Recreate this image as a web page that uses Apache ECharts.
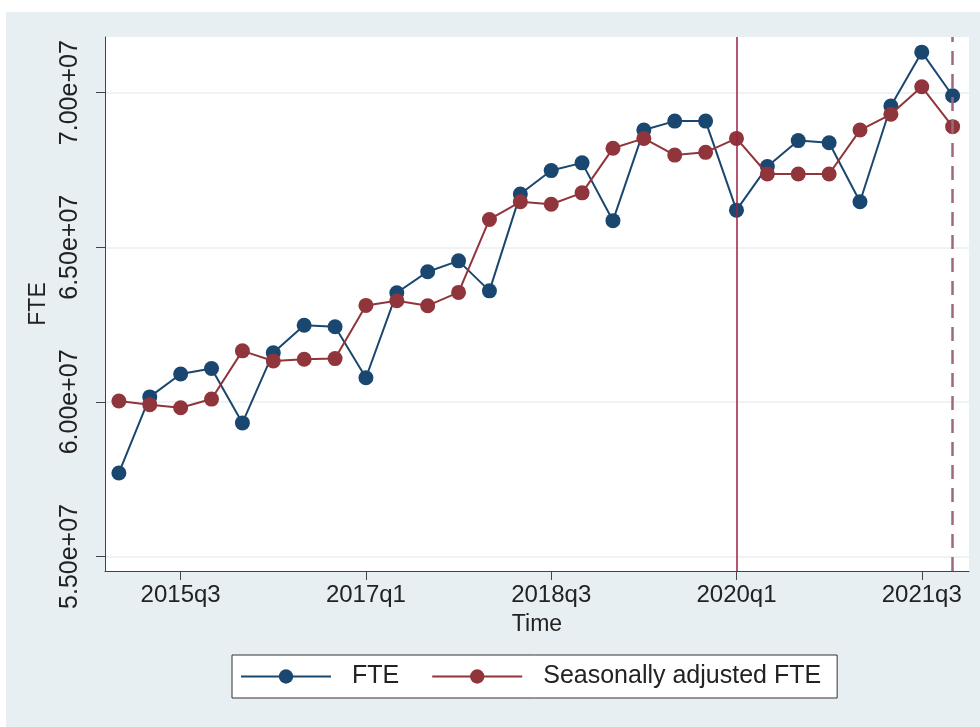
<!DOCTYPE html>
<html>
<head>
<meta charset="utf-8">
<script src="https://cdn.jsdelivr.net/npm/echarts@6/dist/echarts.min.js"></script>
<style>
  html, body { margin: 0; padding: 0; background: #fff; }
  #chart {
    width: 980px; height: 727px;
    background: linear-gradient(#e7eff2, #e7eff2) 6px 12px / 974px 715px no-repeat, #fff;
  }
</style>
</head>
<body>
<div id="chart"></div>
<script>
// Quarterly full-time equivalent employment, 2015q1 - 2021q4
const quarters = [
  '2015q1','2015q2','2015q3','2015q4','2016q1','2016q2','2016q3','2016q4',
  '2017q1','2017q2','2017q3','2017q4','2018q1','2018q2','2018q3','2018q4',
  '2019q1','2019q2','2019q3','2019q4','2020q1','2020q2','2020q3','2020q4',
  '2021q1','2021q2','2021q3','2021q4'
];
const fte = [
  57.70e6, 60.16e6, 60.90e6, 61.08e6, 59.32e6, 61.59e6, 62.48e6, 62.43e6,
  60.78e6, 63.53e6, 64.21e6, 64.56e6, 63.59e6, 66.72e6, 67.48e6, 67.73e6,
  65.86e6, 68.79e6, 69.08e6, 69.08e6, 66.20e6, 67.61e6, 68.45e6, 68.38e6,
  66.47e6, 69.57e6, 71.31e6, 69.90e6
];
const fteSeasonallyAdjusted = [
  60.03e6, 59.91e6, 59.81e6, 60.09e6, 61.65e6, 61.32e6, 61.38e6, 61.40e6,
  63.12e6, 63.27e6, 63.11e6, 63.54e6, 65.90e6, 66.47e6, 66.39e6, 66.76e6,
  68.20e6, 68.52e6, 67.98e6, 68.07e6, 68.52e6, 67.37e6, 67.37e6, 67.37e6,
  68.79e6, 69.30e6, 70.19e6, 68.90e6
];
const xTickLabels = ['2015q3', '2017q1', '2018q3', '2020q1', '2021q3'];
const yTickValues = [55e6, 60e6, 65e6, 70e6];
const solidLineQuarter = '2020q1';
const dashedLineQuarter = '2021q4';

const BLUE = '#1a476f';
const RED = '#90353b';
const FONT = 'Liberation Sans, Arial, Helvetica, sans-serif';

const qIndex = q => quarters.indexOf(q);
const toPairs = arr => arr.map((v, i) => [i, v]);

function sci(v) {
  if (v === 0) return '0.00e+00';
  const e = Math.floor(Math.log10(Math.abs(v)));
  const m = v / Math.pow(10, e);
  const es = (e < 0 ? '-' : '+') + String(Math.abs(e)).padStart(2, '0');
  return m.toFixed(2) + 'e' + es;
}

const chart = echarts.init(document.getElementById('chart'), null, { renderer: 'canvas' });

chart.setOption({
  backgroundColor: 'transparent',
  animation: false,
  textStyle: { fontFamily: FONT },
  grid: {
    left: 105, right: 11, top: 37, bottom: 156,
    show: true, backgroundColor: '#ffffff', borderWidth: 0
  },
  xAxis: {
    type: 'value',
    min: -0.45, max: 27.53,
    name: 'Time',
    nameLocation: 'middle',
    nameGap: 42,
    nameTextStyle: { color: '#222', fontSize: 23, fontFamily: FONT },
    axisLine: { show: true, onZero: false, lineStyle: { color: '#444', width: 1 } },
    axisTick: {
      show: true, length: 9, lineStyle: { color: '#444', width: 1 },
      customValues: xTickLabels.map(qIndex)
    },
    axisLabel: {
      customValues: xTickLabels.map(qIndex),
      formatter: v => quarters[Math.round(v)],
      color: '#222', fontSize: 24, fontFamily: FONT, margin: 12
    },
    splitLine: { show: false }
  },
  yAxis: {
    type: 'value',
    min: 54.53e6, max: 71.80e6,
    name: 'FTE',
    nameLocation: 'middle',
    nameRotate: 90,
    nameGap: 51,
    nameTextStyle: { color: '#222', fontSize: 23, fontFamily: FONT },
    axisLine: { show: true, onZero: false, lineStyle: { color: '#444', width: 1 } },
    axisTick: {
      show: true, length: 9, lineStyle: { color: '#444', width: 1 },
      customValues: yTickValues
    },
    axisLabel: {
      customValues: yTickValues,
      rotate: 90,
      formatter: v => sci(v),
      color: '#222', fontSize: 25, fontFamily: FONT, margin: 22
    },
    splitLine: { show: true, lineStyle: { color: '#e9f1f3', width: 1.5 } }
  },
  legend: {
    left: 232, top: 655,
    orient: 'horizontal',
    backgroundColor: '#ffffff',
    borderColor: '#333',
    borderWidth: 1,
    padding: [9, 16, 9, 8],
    itemWidth: 90,
    itemHeight: 18,
    itemGap: 32,
    textStyle: { color: '#222', fontSize: 25, fontFamily: FONT, padding: [0, 0, 0, 16] },
    data: ['FTE', 'Seasonally adjusted FTE']
  },
  series: [
    {
      name: 'FTE',
      type: 'line',
      data: toPairs(fte),
      symbol: 'circle',
      symbolSize: 15,
      lineStyle: { color: BLUE, width: 2 },
      itemStyle: { color: BLUE },
      z: 3
    },
    {
      name: 'Seasonally adjusted FTE',
      type: 'line',
      data: toPairs(fteSeasonallyAdjusted),
      symbol: 'circle',
      symbolSize: 15,
      lineStyle: { color: RED, width: 2 },
      itemStyle: { color: RED },
      z: 4,
      markLine: {
        silent: true,
        symbol: 'none',
        label: { show: false },
        animation: false,
        data: [
          { xAxis: qIndex(solidLineQuarter), lineStyle: { color: '#9c1f41', width: 1.5, type: 'solid' } },
          { xAxis: qIndex(dashedLineQuarter), lineStyle: { color: '#a0687c', width: 2.5, type: [14, 9] } }
        ]
      }
    }
  ]
});
</script>
</body>
</html>
